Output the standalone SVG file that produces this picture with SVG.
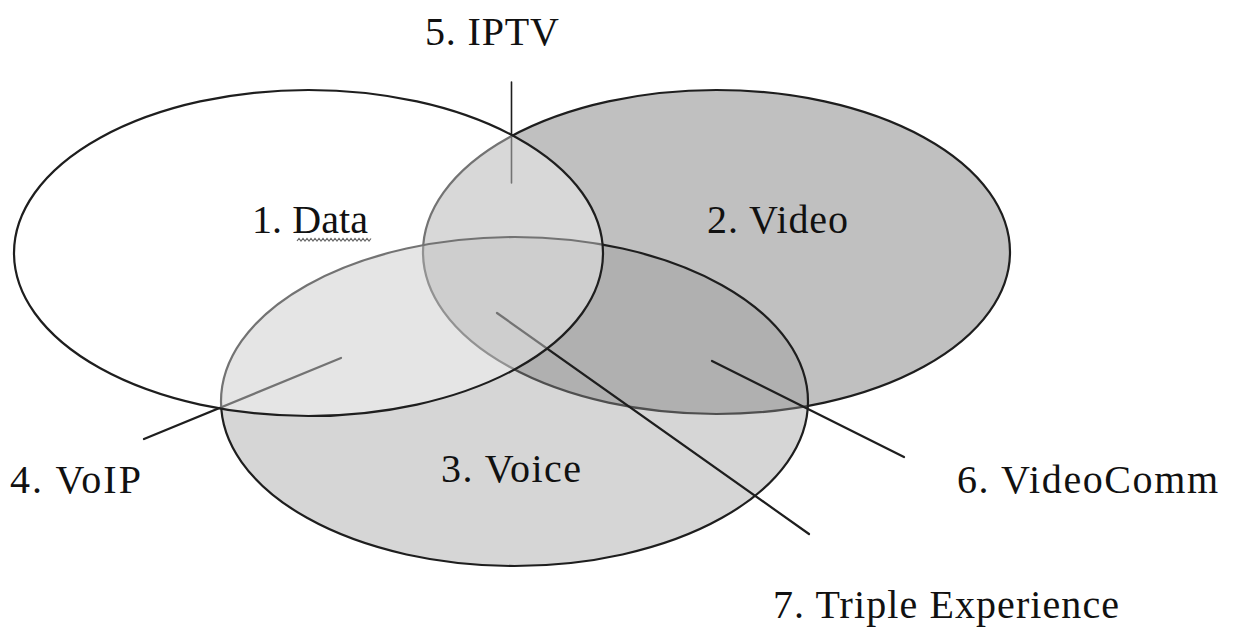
<svg xmlns="http://www.w3.org/2000/svg" width="1235" height="628" viewBox="0 0 1235 628">
<style>
.ell{stroke:#1e1e1e;stroke-width:2.2}
.lbl{font-family:"Liberation Serif","Times New Roman",serif;font-size:40px;fill:#111}
.con{stroke:#1e1e1e;stroke-width:2.2;fill:none;stroke-linecap:round}
</style>
<rect x="0" y="0" width="1235" height="628" fill="#ffffff"/>
<g id="node-video">
<ellipse class="ell" cx="716.5" cy="252" rx="293.5" ry="162" fill="#c0c0c0"/>
<text class="lbl" x="707" y="233" textLength="141" lengthAdjust="spacing">2. Video</text>
</g>
<g id="node-voice">
<ellipse class="ell" cx="514.5" cy="401.5" rx="293.5" ry="164.5" fill="#999999" fill-opacity="0.4"/>
<text class="lbl" x="441" y="482" textLength="140" lengthAdjust="spacing">3. Voice</text>
</g>
<g id="connectors">
<line class="con" x1="511.5" y1="82" x2="511.5" y2="183" style="stroke-width:1.6"/>
<line class="con" x1="144" y1="439" x2="341" y2="358"/>
<line class="con" x1="497" y1="313" x2="809" y2="534"/>
<line class="con" x1="712" y1="361" x2="904" y2="457"/>
</g>
<g id="node-data">
<ellipse class="ell" cx="308.5" cy="253" rx="294.5" ry="163" fill="#ffffff" fill-opacity="0.38"/>
<text class="lbl" x="252" y="233" textLength="116" lengthAdjust="spacing">1. Data</text>
<path d="M297,241 l2,-2.5 2,2.5 2,-2.5 2,2.5 2,-2.5 2,2.5 2,-2.5 2,2.5 2,-2.5 2,2.5 2,-2.5 2,2.5 2,-2.5 2,2.5 2,-2.5 2,2.5 2,-2.5 2,2.5 2,-2.5 2,2.5 2,-2.5 2,2.5 2,-2.5 2,2.5 2,-2.5 2,2.5 2,-2.5 2,2.5 2,-2.5 2,2.5 2,-2.5 2,2.5 2,-2.5 2,2.5 2,-2.5 2,2.5 2,-2.5" fill="none" stroke="#666666" stroke-width="1.2"/>
</g>
<g id="label-iptv"><text class="lbl" x="425" y="45" textLength="134" lengthAdjust="spacing">5. IPTV</text></g>
<g id="label-voip"><text class="lbl" x="10" y="493" textLength="131" lengthAdjust="spacing">4. VoIP</text></g>
<g id="label-videocomm"><text class="lbl" x="957" y="493" textLength="261" lengthAdjust="spacing">6. VideoComm</text></g>
<g id="label-triple"><text class="lbl" x="773" y="618" textLength="346" lengthAdjust="spacing">7. Triple Experience</text></g>
</svg>
